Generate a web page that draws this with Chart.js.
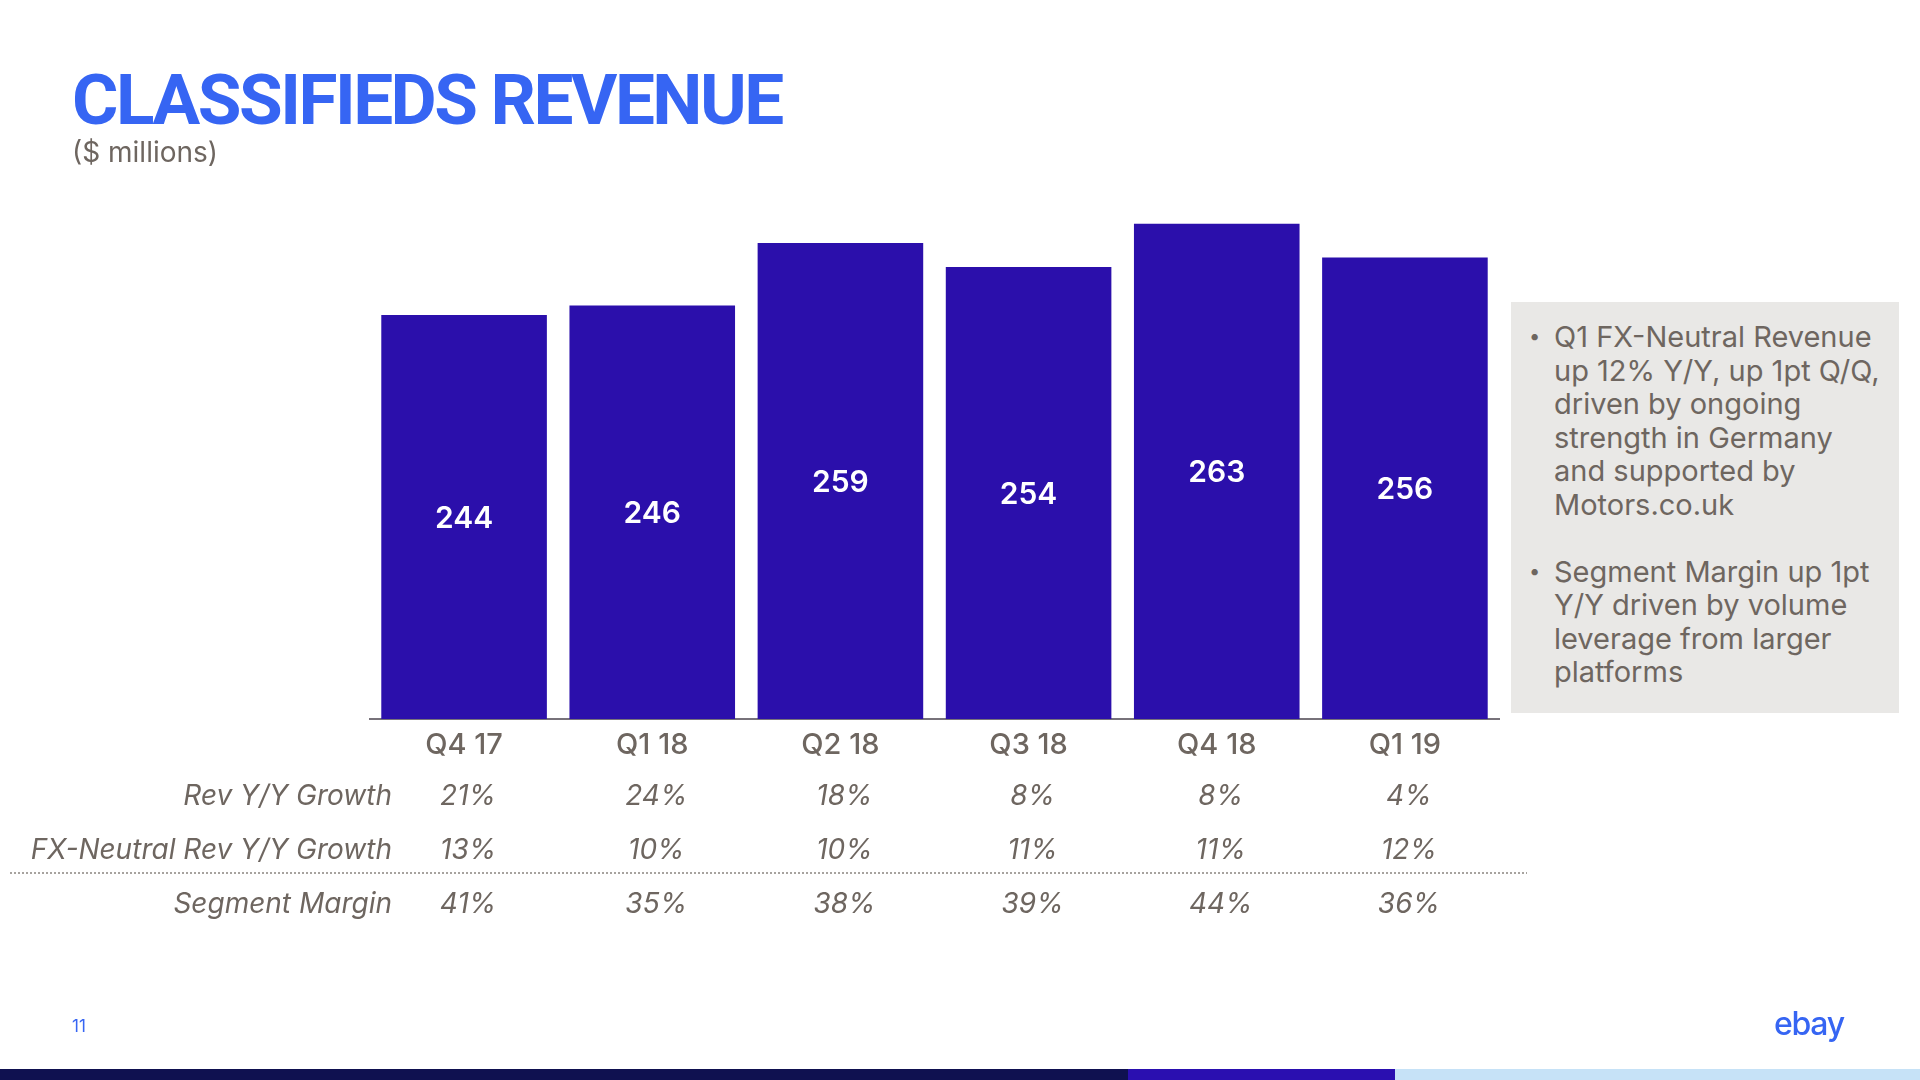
<!DOCTYPE html>
<html>
<head>
<meta charset="utf-8">
<script src="https://cdn.jsdelivr.net/npm/chart.js@4"></script>
<style>
  html, body { margin: 0; padding: 0; background: #fff; }
  body { width: 1920px; height: 1080px; position: relative; overflow: hidden; font-family: Inter, sans-serif; }
  #wrap { position: absolute; left: 0; top: 0; width: 1920px; height: 1080px; }
  .title { position: absolute; left: 72px; top: 58px; font: 700 71px Roboto, sans-serif; color: #3665f3; letter-spacing: -2.5px; margin: 0; }
  .sub { position: absolute; left: 72px; top: 135px; font: 400 28px Inter, sans-serif; color: #6e6660; }
  .side { position: absolute; left: 1511px; top: 302px; width: 388px; height: 411px; background: #e9e8e6; }
  .side ul { margin: 0; padding: 18px 0 0 43px; list-style: none; color: #6e6660; font: 400 29px/33.6px Inter, sans-serif; white-space: nowrap; }
  .side li { position: relative; margin-bottom: 33px; }
  .side li::before { content: "\2022"; position: absolute; left: -25px; font-size: 20px; }
  .pg { position: absolute; left: 72px; top: 1016px; font: 400 17px Inter, sans-serif; color: #3665f3; }
  .logo { position: absolute; left: 1774px; top: 1004px; font: 500 32px Inter, sans-serif; color: #3665f3; letter-spacing: -1.3px; }
  .band { position: absolute; top: 1069px; height: 11px; }
</style>
</head>
<body>
<div id="wrap"><canvas id="classifiedsChart" width="1920" height="1080"></canvas></div>
<h1 class="title">CLASSIFIEDS REVENUE</h1>
<div class="sub">($ millions)</div>
<div class="side">
  <ul>
    <li>Q1 FX-Neutral Revenue<br>up 12% Y/Y, up 1pt Q/Q,<br>driven by ongoing<br>strength in Germany<br>and supported by<br>Motors.co.uk</li>
    <li>Segment Margin up 1pt<br>Y/Y driven by volume<br>leverage from larger<br>platforms</li>
  </ul>
</div>
<div class="pg">11</div>
<div class="logo">ebay</div>
<div class="band" style="left:0;width:1128px;background:#0f1150"></div>
<div class="band" style="left:1128px;width:267px;background:#2a0fb0"></div>
<div class="band" style="left:1395px;width:525px;background:#c6e2f7"></div>

<script>
const quarters = ['Q4 17', 'Q1 18', 'Q2 18', 'Q3 18', 'Q4 18', 'Q1 19']
const revenue = [244, 246, 259, 254, 263, 256]
const rowLabels = ['Rev Y/Y Growth', 'FX-Neutral Rev Y/Y Growth', 'Segment Margin']
const revGrowth = ['21%', '24%', '18%', '8%', '8%', '4%']
const fxNeutralGrowth = ['13%', '10%', '10%', '11%', '11%', '12%']
const segmentMargin = ['41%', '35%', '38%', '39%', '44%', '36%']

const tableRows = [revGrowth, fxNeutralGrowth, segmentMargin]
const rowY = [797, 851, 905]

// bar value labels + metrics table under the axis, both placed with the chart's scales
const overlay = {
    id: 'overlay',
    afterDraw(chart) {
        const ctx = chart.ctx
        const x = chart.scales.x
        const y = chart.scales.y
        ctx.save()

        ctx.fillStyle = '#ffffff'
        ctx.font = '600 30px Inter, sans-serif'
        ctx.textAlign = 'center'
        ctx.textBaseline = 'middle'
        revenue.forEach((v, i) => {
            const top = y.getPixelForValue(v)
            ctx.fillText(String(v), x.getPixelForValue(i), (top + y.bottom) / 2 + 2)
        })

        ctx.fillStyle = '#6e6660'
        ctx.font = 'italic 400 28px Inter, sans-serif'
        tableRows.forEach((row, r) => {
            ctx.textAlign = 'right'
            ctx.fillText(rowLabels[r], 392, rowY[r])
            ctx.textAlign = 'center'
            row.forEach((v, i) => ctx.fillText(v, x.getPixelForValue(i) + 4, rowY[r]))
        })

        ctx.strokeStyle = '#8a8580'
        ctx.lineWidth = 1.5
        ctx.setLineDash([2, 2])
        ctx.beginPath()
        ctx.moveTo(10, 873)
        ctx.lineTo(1527, 873)
        ctx.stroke()
        ctx.restore()
    }
}

new Chart(document.getElementById('classifiedsChart').getContext('2d'), {
    type: 'bar',
    data: {
        labels: quarters,
        datasets: [{
            data: revenue,
            backgroundColor: '#2b0fab',
            borderWidth: 0,
            barPercentage: 0.88,
            categoryPercentage: 1
        }]
    },
    options: {
        responsive: false,
        animation: false,
        layout: { padding: { left: 370, right: 421, top: 142, bottom: 0 } },
        plugins: { legend: { display: false }, tooltip: { enabled: false } },
        scales: {
            y: { display: false, min: 160, max: 280 },
            x: {
                grid: { display: false, drawTicks: false },
                border: { display: true, color: '#77727a', width: 2 },
                ticks: { color: '#6e6660', font: { family: 'Inter', size: 29, weight: '500' }, padding: 9 },
                afterFit(scale) { scale.height = 361 }
            }
        }
    },
    plugins: [overlay]
})
</script>
</body>
</html>
